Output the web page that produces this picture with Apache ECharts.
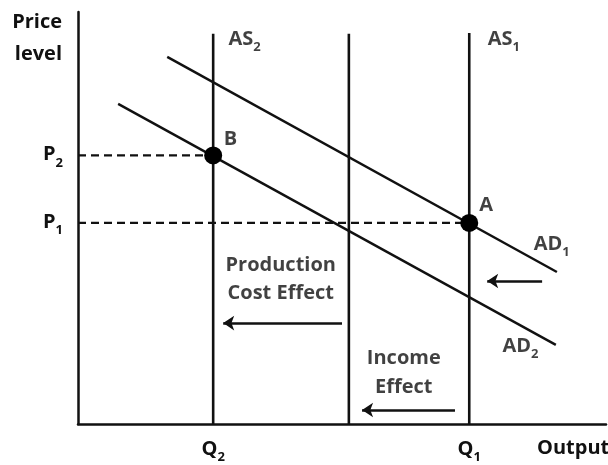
<!DOCTYPE html>
<html><head><meta charset="utf-8">
<script src="https://cdn.jsdelivr.net/npm/echarts@6/dist/echarts.min.js"></script>
<style>html,body{margin:0;padding:0;background:#fff}#c{width:608px;height:465px}</style>
</head><body><div id="c"></div>
<script>
// ---- values (abstract units, 0..100 on both axes) ----
const Q2 = 25.6, QM = 51.3, Q1 = 74.1;
const P1 = 48.8, P2 = 65.2;
const xTickValues = [Q2, Q1];
const xTickSubs = ['2', '1'];
const yTickValues = [P1, P2];
const yTickSubs = ['1', '2'];
const as2Line = [[Q2, 0], [Q2, 94.7]];
const asMidLine = [[QM, 0], [QM, 94.7]];
const as1Line = [[Q1, 0], [Q1, 94.9]];
const ad1Line = [[16.9, 89.1], [90.7, 36.9]];
const ad2Line = [[7.6, 77.7], [90.5, 19.2]];
const p2Dash = [[0, P2], [Q2, P2]];
const p1Dash = [[0, P1], [Q1, P1]];
const equilibria = [[Q2, P2], [Q1, P1]];
const prodArrow = [[50.0, 24.5], [27.5, 24.5]];
const adShiftArrow = [[87.9, 34.7], [77.5, 34.7]];
const incomeArrow = [[71.4, 3.4], [53.8, 3.4]];

const FONT = '"Open Sans", "Noto Sans", sans-serif';
const INK = '#111';
const FS = 20;
const rich = {
  m: {fontFamily: FONT, fontWeight: 'bold', fontSize: FS, color: INK, lineHeight: 22, verticalAlign: 'top'},
  s: {fontFamily: FONT, fontWeight: 'bold', fontSize: 13, color: INK, lineHeight: 13, padding: [12, 0, 0, 0], verticalAlign: 'top'}
};
function sub(base, s) { return '{m|' + base + '}{s|' + s + '}'; }

function lineSeries(data, extra) {
  return Object.assign({
    type: 'line', data: data, showSymbol: false, symbol: 'none', silent: true,
    lineStyle: {color: INK, width: 2.4}, z: 2, animation: false
  }, extra || {});
}
function arrowSeries(seg) {
  return {
    type: 'lines', coordinateSystem: 'cartesian2d', silent: true, animation: false,
    symbol: ['none', 'arrow'], symbolSize: 11,
    lineStyle: {color: INK, width: 2.5, opacity: 1},
    data: [{coords: seg}], z: 3
  };
}
function textSeries(pt, text, pos, extraLabel) {
  return {
    type: 'scatter', data: [pt], symbolSize: 1, itemStyle: {color: 'rgba(0,0,0,0)'},
    silent: true, animation: false, clip: false, z: 5,
    label: Object.assign({show: true, position: pos, distance: 0, formatter: text, rich: rich,
      fontFamily: FONT, fontWeight: 'bold', fontSize: FS, color: INK}, extraLabel || {})
  };
}

const chart = echarts.init(document.getElementById('c'), null, {renderer: 'canvas'});
chart.setOption({
  animation: false,
  backgroundColor: '#fff',
  grid: {left: 78, right: 2, top: 12, bottom: 41, containLabel: false, outerBoundsMode: 'none'},
  xAxis: {
    type: 'value', min: 0, max: 100,
    axisLine: {show: true, lineStyle: {color: INK, width: 2.5}},
    axisTick: {show: false}, splitLine: {show: false},
    axisLabel: {
      show: true, customValues: xTickValues, margin: 15,
      formatter: function (v) { const i = xTickValues.indexOf(v); return sub('Q', xTickSubs[i]); },
      rich: rich
    },
    name: 'Output', nameLocation: 'end', nameGap: -69,
    nameTextStyle: {fontFamily: FONT, fontWeight: 'bold', fontSize: FS, color: INK,
      align: 'left', verticalAlign: 'top', padding: [14, 0, 0, 0]}
  },
  yAxis: {
    type: 'value', min: 0, max: 100,
    axisLine: {show: true, lineStyle: {color: INK, width: 2.5}},
    axisTick: {show: false}, splitLine: {show: false},
    axisLabel: {
      show: true, customValues: yTickValues, margin: 15,
      formatter: function (v) { const i = yTickValues.indexOf(v); return sub('P', yTickSubs[i]); },
      rich: rich
    },
    name: 'Price\nlevel', nameLocation: 'end', nameGap: -58,
    nameTextStyle: {fontFamily: FONT, fontWeight: 'bold', fontSize: FS, color: INK,
      align: 'right', lineHeight: 32, padding: [0, 16, 0, 0]}
  },
  series: [
    lineSeries(as2Line, {lineStyle: {color: INK, width: 2.6}}),
    lineSeries(asMidLine, {lineStyle: {color: INK, width: 2.6}}),
    lineSeries(as1Line, {lineStyle: {color: INK, width: 2.6}}),
    lineSeries(ad1Line),
    lineSeries(ad2Line),
    lineSeries(p2Dash, {lineStyle: {color: INK, width: 2.2, type: [8, 5]}}),
    lineSeries(p1Dash, {lineStyle: {color: INK, width: 2.2, type: [8, 5]}}),
    {type: 'scatter', data: equilibria, symbolSize: 18, itemStyle: {color: '#000', opacity: 1}, silent: true, z: 4, animation: false},
    arrowSeries(prodArrow),
    arrowSeries(adShiftArrow),
    arrowSeries(incomeArrow),
    textSeries([28.4, 93.2], sub('AS', '2'), 'right'),
    textSeries([77.5, 93.2], sub('AS', '1'), 'right'),
    textSeries([27.5, 68.9], '{m|B}', 'right'),
    textSeries([75.9, 52.9], '{m|A}', 'right'),
    textSeries([86.2, 43.4], sub('AD', '1'), 'right'),
    textSeries([80.3, 18.7], sub('AD', '2'), 'right'),
    textSeries([38.4, 35.2], 'Production\nCost Effect', 'inside', {lineHeight: 28, align: 'center'}),
    textSeries([61.7, 12.5], 'Income\nEffect', 'inside', {lineHeight: 29, align: 'center'})
  ]
});
</script>
</body></html>
